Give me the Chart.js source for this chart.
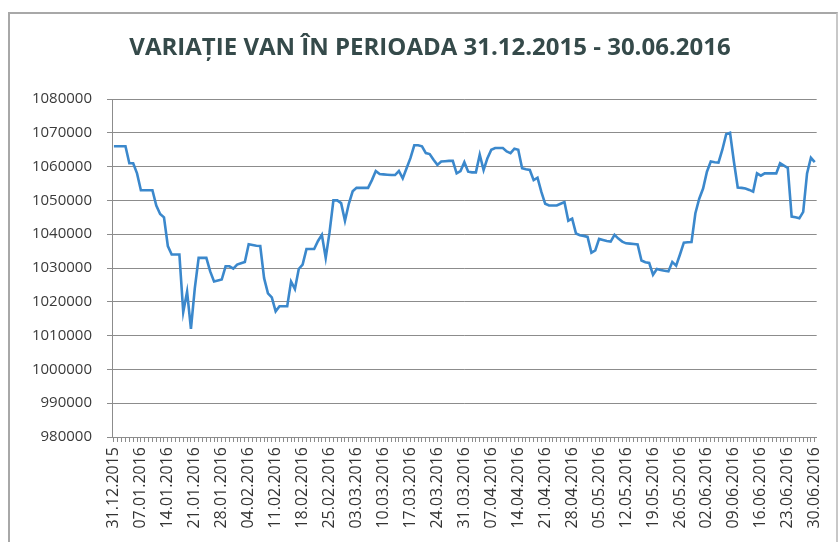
<!DOCTYPE html>
<html>
<head>
<meta charset="utf-8">
<script src="https://cdn.jsdelivr.net/npm/chart.js@4.4.1/dist/chart.umd.min.js"></script>
<style>
  body { margin: 0; background: #fff; }
  #cadru { position: absolute; left: 8px; top: 12px; width: 826px; height: 540px;
           border-left: 2px solid #a8a8a8; border-top: 2px solid #a8a8a8; border-right: 2px solid #c8c8c8; }
  #grafic { position: absolute; left: 0; top: 0; }
</style>
</head>
<body>
<div id="cadru"></div>
<canvas id="grafic" width="839" height="542"></canvas>
<script>
// Titlul graficului
const titlu = 'VARIAȚIE VAN ÎN PERIOADA 31.12.2015 - 30.06.2016';

// Prima zi si numarul de zile din perioada
const dataStart = '2015-12-31';
const nrZile = 183;

// Etichetele afisate pe axa X (din 7 in 7 zile)
const eticheteAxaX = [
    '31.12.2015', '07.01.2016', '14.01.2016', '21.01.2016', '28.01.2016', '04.02.2016',
    '11.02.2016', '18.02.2016', '25.02.2016', '03.03.2016', '10.03.2016', '17.03.2016',
    '24.03.2016', '31.03.2016', '07.04.2016', '14.04.2016', '21.04.2016', '28.04.2016',
    '05.05.2016', '12.05.2016', '19.05.2016', '26.05.2016', '02.06.2016', '09.06.2016',
    '16.06.2016', '23.06.2016', '30.06.2016'
];

// Valorile axei Y
const valoriAxaY = [980000, 990000, 1000000, 1010000, 1020000, 1030000,
                    1040000, 1050000, 1060000, 1070000, 1080000];

// Valoarea activului net (VAN), cate o valoare pe zi
const valoriVAN = [
    1066000, 1066000, 1066000, 1066000, 1061000, 1061000, 1058000, 1053000, 1053000, 1053000,
    1053000, 1048500, 1046000, 1045000, 1036500, 1034000, 1034000, 1034000, 1017000, 1023000,
    1012000, 1024000, 1033000, 1033000, 1033000, 1029000, 1026000, 1026300, 1026600, 1030500,
    1030500, 1029800, 1031000, 1031400, 1031800, 1037000, 1036800, 1036600, 1036500, 1027000,
    1022500, 1021300, 1017200, 1018700, 1018700, 1018700, 1026000, 1023800, 1029700, 1031000,
    1035600, 1035600, 1035600, 1038000, 1039800, 1033000, 1040600, 1050000, 1050000, 1049200,
    1044000, 1049000, 1052700, 1053700, 1053700, 1053700, 1053700, 1056000, 1058700, 1057800,
    1057700, 1057600, 1057500, 1057500, 1058700, 1056500, 1059500, 1062500, 1066300, 1066300,
    1066000, 1064000, 1063700, 1062000, 1060500, 1061500, 1061600, 1061700, 1061700, 1058000,
    1058700, 1061300, 1058500, 1058300, 1058300, 1063500, 1059000, 1062500, 1065000, 1065500,
    1065500, 1065500, 1064500, 1064000, 1065300, 1065000, 1059500, 1059200, 1059000, 1056000,
    1056700, 1052500, 1049000, 1048500, 1048500, 1048500, 1049000, 1049500, 1044000, 1044600,
    1040200, 1039700, 1039500, 1039200, 1034500, 1035200, 1038600, 1038300, 1038000, 1037800,
    1039800, 1038700, 1037800, 1037300, 1037200, 1037100, 1037000, 1032200, 1031700, 1031500,
    1028000, 1029700, 1029400, 1029200, 1029000, 1031800, 1030700, 1034000, 1037500, 1037600,
    1037700, 1046200, 1050500, 1053500, 1058500, 1061500, 1061300, 1061200, 1065000, 1069600,
    1070000, 1061500, 1053800, 1053700, 1053500, 1053100, 1052600, 1058000, 1057300, 1058000,
    1058000, 1058000, 1058000, 1061000, 1060300, 1059600, 1045200, 1045000, 1044700, 1046600,
    1058000, 1062600, 1061300
];

// Construim zilele calendaristice (zz.ll.aaaa)
function zileDinPerioada() {
    const zile = [];
    const d = new Date(dataStart + 'T00:00:00Z');
    for (let i = 0; i < nrZile; i++) {
        const zz = String(d.getUTCDate()).padStart(2, '0');
        const ll = String(d.getUTCMonth() + 1).padStart(2, '0');
        zile.push(zz + '.' + ll + '.' + d.getUTCFullYear());
        d.setUTCDate(d.getUTCDate() + 1);
    }
    return zile;
}

// Titlul e desenat separat ca sa fie centrat ca in original
const pluginTitlu = {
    id: 'titluVAN',
    afterDraw(chart) {
        const c = chart.ctx;
        c.save();
        c.font = 'bold 24px "Open Sans"';
        c.fillStyle = '#354a4a';
        c.textAlign = 'center';
        c.textBaseline = 'middle';
        c.fillText(titlu, 430, 48);
        c.restore();
    }
};

const zile = zileDinPerioada();
const culoareGrila = '#8c8c8c';

const ctx = document.getElementById('grafic').getContext('2d');
new Chart(ctx, {
    type: 'line',
    data: {
        labels: zile,
        datasets: [{
            label: 'VAN',
            data: valoriVAN,
            borderColor: '#3b88cc',
            borderWidth: 2.6,
            pointRadius: 0,
            tension: 0,
            fill: false
        }]
    },
    plugins: [pluginTitlu],
    options: {
        responsive: false,
        animation: false,
        layout: { padding: { left: 10, right: 17, top: 99, bottom: 0 } },
        plugins: {
            legend: { display: false },
            tooltip: { enabled: false },
            title: { display: false }
        },
        scales: {
            x: {
                offset: true,
                grid: { drawOnChartArea: false, color: culoareGrila, tickLength: 5 },
                border: { color: culoareGrila },
                ticks: {
                    autoSkip: false,
                    minRotation: 90,
                    maxRotation: 90,
                    padding: 5,
                    color: '#333',
                    font: { family: 'Open Sans', size: 16 },
                    callback: function (val, idx) {
                        const et = this.getLabelForValue(val);
                        return eticheteAxaX.includes(et) ? et : '';
                    }
                },
                afterFit: scale => { scale.height = 105; }
            },
            y: {
                min: valoriAxaY[0],
                max: valoriAxaY[valoriAxaY.length - 1],
                afterBuildTicks: scale => { scale.ticks = valoriAxaY.map(v => ({ value: v })); },
                grid: { color: culoareGrila, tickLength: 5 },
                border: { color: culoareGrila },
                ticks: {
                    padding: 15,
                    color: '#3a3a3a',
                    font: { family: 'Open Sans', size: 15 },
                    callback: v => String(v)
                },
                afterFit: scale => { scale.width = 102; }
            }
        }
    }
});
</script>
</body>
</html>
